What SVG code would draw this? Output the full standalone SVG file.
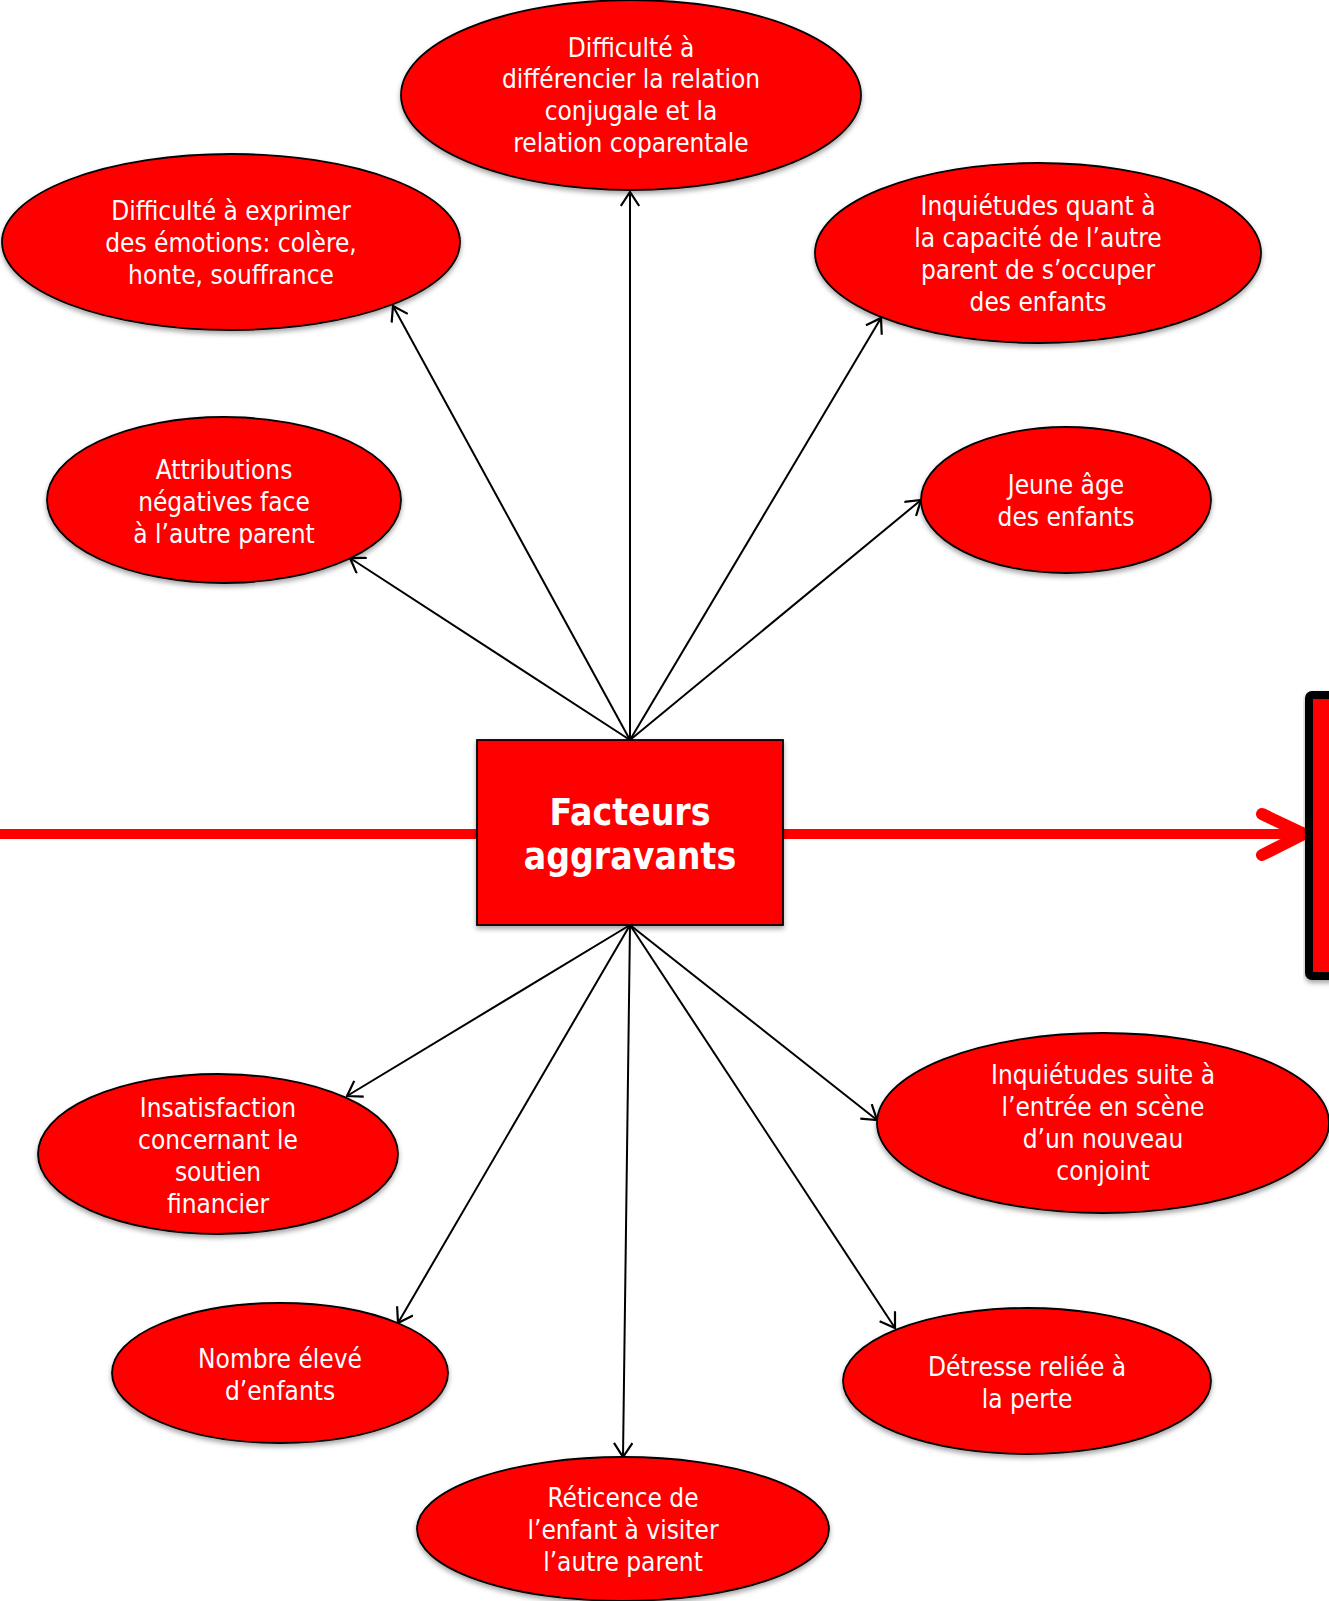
<svg xmlns="http://www.w3.org/2000/svg" width="1329" height="1601" viewBox="0 0 1329 1601">
<style>
  .node { fill: #FF0000; stroke: #000; stroke-width: 1.8; filter: url(#sh); }
  .lbl { font-family: "DejaVu Sans Condensed", "DejaVu Sans", sans-serif; font-stretch: condensed; font-size: 26px; fill: #fff; text-anchor: middle; }
  .title { font-family: "DejaVu Sans Condensed", "DejaVu Sans", sans-serif; font-stretch: condensed; font-weight: bold; font-size: 37px; fill: #fff; text-anchor: middle; }
  .conn { stroke: #000; stroke-width: 2; fill: none; marker-end: url(#arr); }
  .red { stroke: #FF0000; stroke-width: 10; fill: none; }
</style>
<defs>
  <filter id="sh" x="-10%" y="-10%" width="120%" height="130%">
    <feDropShadow dx="0" dy="3" stdDeviation="2.5" flood-color="#000" flood-opacity="0.35"/>
  </filter>
  <marker id="arr" viewBox="0 0 16 20" refX="15" refY="10" markerWidth="16" markerHeight="20" orient="auto" markerUnits="userSpaceOnUse">
    <path d="M1,0.8 L15,10 L1,19.2" fill="none" stroke="#000" stroke-width="2.2"/>
  </marker>
</defs>
<rect width="1329" height="1601" fill="#fff"/>

<g id="main-flow">
  <line class="red" x1="0" y1="834" x2="478" y2="834"/>
  <line class="red" x1="783" y1="834" x2="1300" y2="834"/>
  <polyline points="1262,814 1304,834 1262,855" fill="none" stroke="#FF0000" stroke-width="12" stroke-linecap="round" stroke-linejoin="round"/>
</g>

<g id="right-box">
  <rect x="1309" y="695" width="60" height="281" rx="3" fill="#FF0000" stroke="#000" stroke-width="8" filter="url(#sh)"/>
</g>

<g id="connectors">
  <line class="conn" x1="630" y1="740" x2="630" y2="192"/>
  <line class="conn" x1="630" y1="740" x2="393" y2="306"/>
  <line class="conn" x1="630" y1="740" x2="350" y2="558"/>
  <line class="conn" x1="630" y1="740" x2="881" y2="318"/>
  <line class="conn" x1="630" y1="740" x2="921" y2="500"/>
  <line class="conn" x1="630" y1="925" x2="347" y2="1096"/>
  <line class="conn" x1="630" y1="925" x2="398" y2="1323"/>
  <line class="conn" x1="630" y1="925" x2="623" y2="1457"/>
  <line class="conn" x1="630" y1="925" x2="877" y2="1120"/>
  <line class="conn" x1="630" y1="925" x2="895" y2="1328"/>
</g>

<g id="center">
  <rect x="477" y="740" width="306" height="185" fill="#FF0000" stroke="#000" stroke-width="1.8" filter="url(#sh)"/>
  <text class="title" x="630" y="825">Facteurs</text>
  <text class="title" x="630" y="869">aggravants</text>
</g>

<g id="n-diff-relation">
  <ellipse class="node" cx="631" cy="95" rx="230" ry="95"/>
  <text class="lbl" x="631" y="57">Difficulté à</text>
  <text class="lbl" x="631" y="88">différencier la relation</text>
  <text class="lbl" x="631" y="120">conjugale et la</text>
  <text class="lbl" x="631" y="152">relation coparentale</text>
</g>

<g id="n-diff-emotions">
  <ellipse class="node" cx="231" cy="242" rx="229" ry="88"/>
  <text class="lbl" x="231" y="220">Difficulté à exprimer</text>
  <text class="lbl" x="231" y="252">des émotions: colère,</text>
  <text class="lbl" x="231" y="284">honte, souffrance</text>
</g>

<g id="n-attributions">
  <ellipse class="node" cx="224" cy="500" rx="177" ry="83"/>
  <text class="lbl" x="224" y="479">Attributions</text>
  <text class="lbl" x="224" y="511">négatives face</text>
  <text class="lbl" x="224" y="543">à l’autre parent</text>
</g>

<g id="n-inquietudes-capacite">
  <ellipse class="node" cx="1038" cy="253" rx="223" ry="90"/>
  <text class="lbl" x="1038" y="215">Inquiétudes quant à</text>
  <text class="lbl" x="1038" y="247">la capacité de l’autre</text>
  <text class="lbl" x="1038" y="279">parent de s’occuper</text>
  <text class="lbl" x="1038" y="311">des enfants</text>
</g>

<g id="n-jeune-age">
  <ellipse class="node" cx="1066" cy="500" rx="145" ry="73"/>
  <text class="lbl" x="1066" y="494">Jeune âge</text>
  <text class="lbl" x="1066" y="526">des enfants</text>
</g>

<g id="n-insatisfaction">
  <ellipse class="node" cx="218" cy="1154" rx="180" ry="80"/>
  <text class="lbl" x="218" y="1117">Insatisfaction</text>
  <text class="lbl" x="218" y="1149">concernant le</text>
  <text class="lbl" x="218" y="1181">soutien</text>
  <text class="lbl" x="218" y="1213">financier</text>
</g>

<g id="n-nombre">
  <ellipse class="node" cx="280" cy="1373" rx="168" ry="70"/>
  <text class="lbl" x="280" y="1368">Nombre élevé</text>
  <text class="lbl" x="280" y="1400">d’enfants</text>
</g>

<g id="n-reticence">
  <ellipse class="node" cx="623" cy="1529" rx="206" ry="72"/>
  <text class="lbl" x="623" y="1507">Réticence de</text>
  <text class="lbl" x="623" y="1539">l’enfant à visiter</text>
  <text class="lbl" x="623" y="1571">l’autre parent</text>
</g>

<g id="n-inquietudes-conjoint">
  <ellipse class="node" cx="1103" cy="1123" rx="226" ry="90"/>
  <text class="lbl" x="1103" y="1084">Inquiétudes suite à</text>
  <text class="lbl" x="1103" y="1116">l’entrée en scène</text>
  <text class="lbl" x="1103" y="1148">d’un nouveau</text>
  <text class="lbl" x="1103" y="1180">conjoint</text>
</g>

<g id="n-detresse">
  <ellipse class="node" cx="1027" cy="1381" rx="184" ry="73"/>
  <text class="lbl" x="1027" y="1376">Détresse reliée à</text>
  <text class="lbl" x="1027" y="1408">la perte</text>
</g>
</svg>
